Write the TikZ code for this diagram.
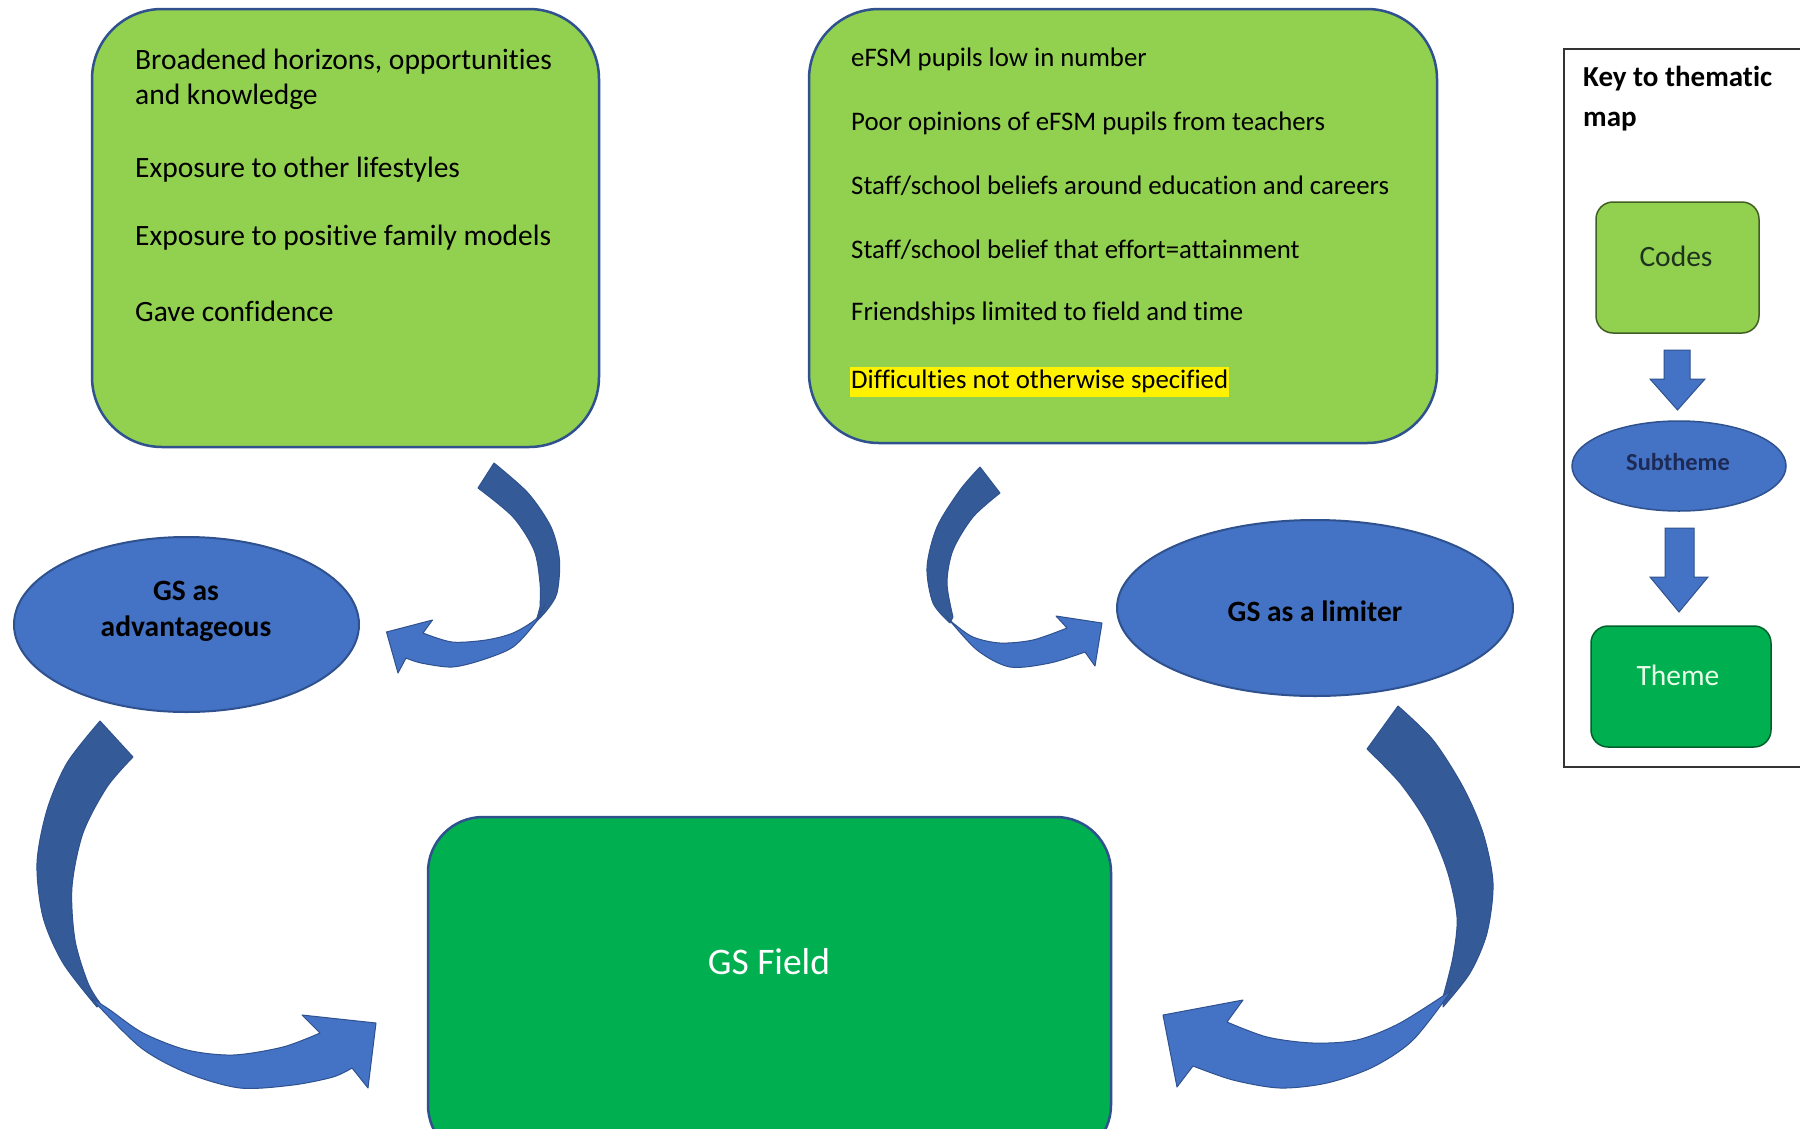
\documentclass[tikz,border=0pt]{standalone}
\usepackage{fontspec}
\setmainfont{Carlito}[Ligatures=NoCommon]
\usetikzlibrary{shapes.geometric}
\definecolor{lgreen}{HTML}{92D050}
\definecolor{dgreen}{HTML}{00B050}
\definecolor{eblue}{HTML}{4472C4}
\definecolor{bordblue}{HTML}{2F528F}
\definecolor{darkarrow}{HTML}{345A97}
\definecolor{codetxt}{HTML}{1E331E}
\definecolor{subtxt}{HTML}{1C2A55}
\definecolor{themetxt}{HTML}{E8FFE8}
\tikzset{
  codebox/.style={draw=bordblue, line width=2.5pt, fill=lgreen, rounded corners=70pt, inner sep=0},
  fieldbox/.style={draw=bordblue, line width=2.5pt, fill=dgreen, rounded corners=55pt, inner sep=0},
  subell/.style={ellipse, draw=bordblue, line width=2pt, fill=eblue, inner sep=0},
  lefttxt/.style={anchor=west, inner sep=0, font=\fontsize{29.5}{35}\selectfont},
  righttxt/.style={anchor=west, inner sep=0, font=\fontsize{26.8}{32}\selectfont},
  elltxt/.style={inner sep=0, align=center, font=\bfseries\fontsize{29.5}{36}\selectfont},
  backband/.style={fill=darkarrow, draw=bordblue, line width=1pt, line join=round},
  frontband/.style={fill=eblue, draw=bordblue, line width=1pt, line join=round},
  keyarrow/.style={fill=eblue, draw=bordblue, line width=1pt},
  keyframe/.style={draw=black!80, line width=2pt},
}
\begin{document}
\begin{tikzpicture}[x=1pt,y=-1pt]
\useasboundingbox (0,0) rectangle (1800,1128);
\clip (0,0) rectangle (1800,1128);
\fill[white] (0,0) rectangle (1800,1128);

% code boxes
\node[codebox, minimum width=507pt, minimum height=438pt] (leftbox) at (345.5,228) {};
\node[codebox, minimum width=628pt, minimum height=434pt] (rightbox) at (1123,226) {};

\node[lefttxt] (l1) at (135,62) {Broadened horizons, opportunities};
\node[lefttxt] (l2) at (135,97) {and knowledge};
\node[lefttxt] (l3) at (135,170) {Exposure to other lifestyles};
\node[lefttxt] (l4) at (135,238) {Exposure to positive family models};
\node[lefttxt] (l5) at (135,311) {Gave confidence};

\node[righttxt] (r1) at (851,59) {eFSM pupils low in number};
\node[righttxt] (r2) at (851,123) {Poor opinions of eFSM pupils from teachers};
\node[righttxt] (r3) at (851,186) {Staff/school beliefs around education and careers};
\node[righttxt] (r4) at (851,250) {Staff/school belief that effort=attainment};
\node[righttxt] (r5) at (851,313) {Friendships limited to field and time};
\node[righttxt, fill=yellow, inner xsep=1pt, inner ysep=0pt, text height=21pt, text depth=9pt] (r6) at (850,382) {Difficulties not otherwise specified};

% subthemes
\node[subell, minimum width=345pt, minimum height=175pt] (adv) at (186.5,624.5) {};
\node[elltxt] (advtxt) at (186,611) {GS as\\advantageous};
\node[subell, minimum width=396pt, minimum height=176pt] (lim) at (1315,608) {};
\node[elltxt] (limtxt) at (1315,611) {GS as a limiter};

% theme
\node[fieldbox, minimum width=683pt, minimum height=343pt] (field) at (769.5,988.5) {};
\node[inner sep=0, text=white, font=\fontsize{37.5}{42}\selectfont] (fieldtxt) at (769,962) {GS Field};

% curved arrow 1 (left box -> GS as advantageous)
\filldraw[backband] plot[smooth] coordinates {(494,463) (528,493) (551,527) (559.5,560) (557,593) (547,610) (536,622)}
  -- plot[smooth] coordinates {(540,607) (540,583) (534,550) (513,517) (478,488)} -- cycle;
\filldraw[frontband] plot[smooth] coordinates {(545,604) (536,622) (513,647) (482,660) (452,667) (421,663) (406,658)}
  -- (398,673) -- (386.5,632) -- (432.5,620)
  -- plot[smooth] coordinates {(423,633) (452,642) (486,640) (513,633) (536,619) (545,604)} -- cycle;

% curved arrow 2 (right box -> GS as a limiter)
\filldraw[backband] plot[smooth] coordinates {(980,467) (960,490) (937,527) (927,567) (933,603) (950,623)}
  -- plot[smooth] coordinates {(953,617) (947,583) (953,550) (973,517) (1000,493)} -- cycle;
\filldraw[frontband] plot[smooth] coordinates {(946,616) (977,650) (1010,667) (1050,663) (1085,652)}
  -- (1095,666) -- (1102,623) -- (1056,616)
  -- plot[smooth] coordinates {(1067,628) (1033,640) (1000,643) (973,637) (953,623) (946,616)} -- cycle;

% curved arrow 3 (GS as advantageous -> GS Field)
\filldraw[backband] plot[smooth] coordinates {(100,721) (67,763) (47,810) (37,863) (43,917) (63,963) (97,1007)}
  -- plot[smooth] coordinates {(100,1003) (88,983) (75,940) (72,887) (83,833) (107,787) (133,757)} -- cycle;
\filldraw[frontband] plot[smooth] coordinates {(90,997) (140,1047) (187,1073) (240,1088) (293,1085) (333,1077) (352,1068)}
  -- (368,1088) -- (376,1023) -- (302,1015)
  -- plot[smooth] coordinates {(320,1033) (283,1047) (233,1055) (187,1050) (143,1033) (110,1010) (90,997)} -- cycle;

% curved arrow 4 (GS as a limiter -> GS Field)
\filldraw[backband] plot[smooth] coordinates {(1398,706) (1433,740) (1463,787) (1483,833) (1493,883) (1487,933) (1470,973) (1443,1007)}
  -- plot[smooth] coordinates {(1443,997) (1453,957) (1457,917) (1447,870) (1427,823) (1400,783) (1367,749)} -- cycle;
\filldraw[frontband] plot[smooth] coordinates {(1452,990) (1413,1040) (1373,1067) (1327,1083) (1280,1088) (1233,1080) (1193,1066)}
  -- (1177,1087) -- (1163,1015) -- (1243,1000)
  -- plot[smooth] coordinates {(1227,1022) (1267,1037) (1313,1043) (1357,1040) (1400,1023) (1452,990)} -- cycle;

% key
\draw[keyframe] (1564,49) rectangle (1830,767);
\node[inner sep=0, anchor=west, align=left, font=\bfseries\fontsize{29}{40}\selectfont] (keytitle) at (1583,99) {Key to thematic\\map};
\node[draw=black!55!lgreen, line width=1.5pt, fill=lgreen, rounded corners=17pt, minimum width=163pt, minimum height=131pt, inner sep=0] (kcodes) at (1677.5,267.5) {};
\node[inner sep=0, text=codetxt, font=\fontsize{29.5}{32}\selectfont] (kcodestxt) at (1676,256) {Codes};
\node[subell, line width=1.5pt, minimum width=214pt, minimum height=90pt] (ksub) at (1679,466) {};
\node[inner sep=0, text=subtxt, font=\bfseries\fontsize{24.4}{27}\selectfont] (ksubtxt) at (1678,462) {Subtheme};
\node[draw=black!45!dgreen, line width=1.5pt, fill=dgreen, rounded corners=17pt, minimum width=180pt, minimum height=121pt, inner sep=0] (ktheme) at (1681,686.5) {};
\node[inner sep=0, text=themetxt, font=\fontsize{29.5}{32}\selectfont] (kthemetxt) at (1678,675) {Theme};

\filldraw[keyarrow] (1664,350) -- (1690,350) -- (1690,379) -- (1705,379) -- (1677.5,410) -- (1650,379) -- (1664,379) -- cycle;
\filldraw[keyarrow] (1665,528) -- (1694,528) -- (1694,577) -- (1708,577) -- (1679,612) -- (1650,577) -- (1665,577) -- cycle;

\end{tikzpicture}
\end{document}
